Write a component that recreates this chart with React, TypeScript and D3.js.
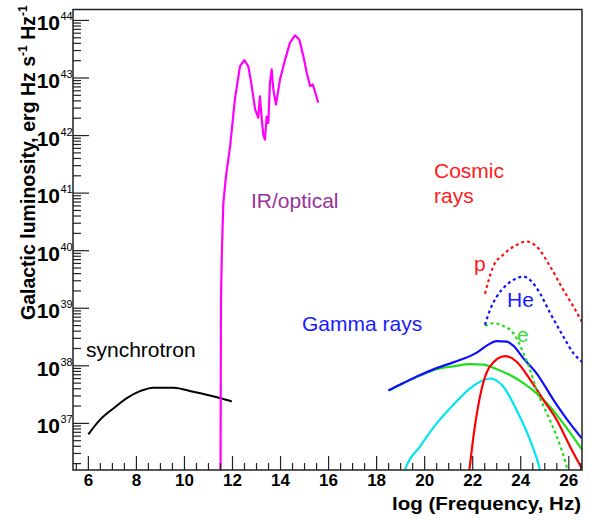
import React from "react";
import * as d3 from "d3";

const W = 590;
const H = 520;
const frame = { left: 73, right: 582, top: 9.5, bottom: 470 };

// axis ranges: x is log10(frequency), y is log10(luminosity)
const xDomain = [5.36, 26.55];
const yExpDomain = [36.19, 44.19];
const xMajorTicks = [6, 8, 10, 12, 14, 16, 18, 20, 22, 24, 26];
const yMajorExps = [37, 38, 39, 40, 41, 42, 43, 44];

// curves (x = log nu, y = log L)
const synchX = [6.0, 6.48, 7.04, 7.6, 8.15, 8.7, 9.54, 10.37, 11.48, 11.97];
const synchY = [36.81, 37.06, 37.26, 37.44, 37.56, 37.62, 37.62, 37.55, 37.44, 37.38];

const irX = [11.5, 11.52, 11.56, 11.62, 11.73, 11.9, 12.1, 12.31, 12.49, 12.66, 12.8, 12.94, 13.07, 13.14, 13.22, 13.28, 13.35, 13.42, 13.49, 13.56, 13.63, 13.7, 13.81, 13.98, 14.19, 14.39, 14.6, 14.78, 14.95, 15.09, 15.23, 15.34, 15.43, 15.57];
const irY = [35.9, 39.15, 40.02, 40.83, 41.3, 41.81, 42.63, 43.2, 43.31, 43.2, 42.86, 42.46, 42.31, 42.68, 42.28, 42.02, 41.93, 42.33, 42.22, 42.92, 43.15, 42.8, 42.54, 42.98, 43.32, 43.61, 43.74, 43.67, 43.38, 43.09, 42.86, 42.89, 42.77, 42.57];

const gammaX = [18.49, 19.11, 19.81, 20.5, 21.19, 22.17, 22.58, 23.0, 23.42, 23.69, 24.11, 24.66, 25.36, 26.05, 26.54];
const gammaY = [37.57, 37.7, 37.84, 37.96, 38.06, 38.23, 38.35, 38.43, 38.42, 38.35, 38.13, 37.87, 37.41, 37.0, 36.74];

const icX = [18.56, 19.81, 20.5, 21.19, 21.89, 22.44, 23.0, 23.55, 24.11, 24.66, 25.22, 25.77, 26.54];
const icY = [37.58, 37.83, 37.94, 37.99, 38.03, 38.02, 37.94, 37.84, 37.7, 37.52, 37.29, 37.0, 36.55];

const bremsX = [19.0, 19.18, 19.81, 20.5, 21.19, 21.89, 22.72, 23.27, 23.83, 24.39, 24.8, 24.95];
const bremsY = [35.85, 36.19, 36.6, 37.0, 37.32, 37.61, 37.78, 37.64, 37.23, 36.71, 36.19, 35.9];

const pionX = [21.75, 21.86, 22.03, 22.3, 22.72, 23.35, 23.83, 24.39, 24.94, 25.5, 26.05, 26.54];
const pionY = [35.9, 36.19, 36.77, 37.46, 37.99, 38.17, 38.07, 37.76, 37.41, 37.06, 36.6, 36.22];

const crElecX = [22.51, 22.86, 23.27, 23.69, 24.11, 24.39, 24.66, 25.08, 25.5, 25.91, 26.0];
const crElecY = [38.69, 38.74, 38.69, 38.57, 38.22, 37.93, 37.58, 37.18, 36.77, 36.25, 36.1];

const crHeX = [22.51, 22.72, 23.0, 23.42, 23.83, 24.11, 24.39, 24.8, 25.22, 25.77, 26.19, 26.54];
const crHeY = [38.71, 38.97, 39.2, 39.41, 39.52, 39.55, 39.49, 39.26, 38.92, 38.51, 38.22, 38.07];

const crProtonX = [22.51, 22.86, 23.27, 23.83, 24.25, 24.66, 25.22, 25.77, 26.19, 26.54];
const crProtonY = [39.25, 39.73, 39.93, 40.1, 40.16, 40.07, 39.73, 39.32, 39.03, 38.77];

const curves = [
  { name: "synch", xs: synchX, ys: synchY, color: "#000000", dash: null, width: 2, curve: d3.curveMonotoneX },
  { name: "ir", xs: irX, ys: irY, color: "#ff00ff", dash: null, width: 2.2, curve: d3.curveLinear },
  { name: "brems", xs: bremsX, ys: bremsY, color: "#00e5f0", dash: null, width: 2.2, curve: d3.curveMonotoneX },
  { name: "ic", xs: icX, ys: icY, color: "#1fdd1f", dash: null, width: 2.2, curve: d3.curveMonotoneX },
  { name: "pion", xs: pionX, ys: pionY, color: "#ff0000", dash: null, width: 2.2, curve: d3.curveMonotoneX },
  { name: "gamma", xs: gammaX, ys: gammaY, color: "#1010ff", dash: null, width: 2.2, curve: d3.curveMonotoneX },
  { name: "e", xs: crElecX, ys: crElecY, color: "#1fdd1f", dash: "3,3", width: 2.2, curve: d3.curveMonotoneX },
  { name: "he", xs: crHeX, ys: crHeY, color: "#1010ff", dash: "3,3", width: 2.2, curve: d3.curveMonotoneX },
  { name: "p", xs: crProtonX, ys: crProtonY, color: "#ff1010", dash: "3,3", width: 2.2, curve: d3.curveMonotoneX },
];

const labels = [
  { text: "synchrotron", x: 86, y: 357, color: "#000000" },
  { text: "IR/optical", x: 251, y: 208, color: "#993399" },
  { text: "Cosmic", x: 434, y: 178, color: "#ff1a1a" },
  { text: "rays", x: 434, y: 203, color: "#ff1a1a" },
  { text: "Gamma rays", x: 302, y: 331, color: "#1a1aff" },
  { text: "p", x: 474, y: 271, color: "#ff1a1a" },
  { text: "He", x: 507, y: 307, color: "#1a1aff" },
  { text: "e", x: 517, y: 342, color: "#33dd33" },
];

const font = "'Liberation Sans', Arial, Helvetica, sans-serif";

export default function App() {
  const x = d3.scaleLinear().domain(xDomain).range([frame.left, frame.right]);
  const y = d3
    .scaleLog()
    .domain([Math.pow(10, yExpDomain[0]), Math.pow(10, yExpDomain[1])])
    .range([frame.bottom, frame.top]);

  const yTicks = y.ticks().filter(v => y(v) >= frame.top && y(v) <= frame.bottom);
  const xMinor = d3.range(5.5, 26.51, 0.5).filter(v => !xMajorTicks.includes(v));

  const makeLine = (curve: any) =>
    d3
      .line<[number, number]>()
      .x(d => x(d[0]))
      .y(d => y(Math.pow(10, d[1])))
      .curve(curve);

  return (
    <svg width={W} height={H} style={{ position: "absolute", left: 0, top: 0, background: "#fff" }} fontFamily={font}>
      <defs>
        <clipPath id="plot">
          <rect x={frame.left} y={frame.top} width={frame.right - frame.left} height={frame.bottom - frame.top} />
        </clipPath>
      </defs>
      <rect width={W} height={H} fill="#fff" />

      <g clipPath="url(#plot)" fill="none" strokeLinejoin="round">
        {curves.map(c => (
          <path
            key={c.name}
            d={makeLine(c.curve)(c.xs.map((v, i) => [v, c.ys[i]] as [number, number])) || ""}
            stroke={c.color}
            strokeWidth={c.width}
            strokeDasharray={c.dash || undefined}
          />
        ))}
      </g>

      {/* frame */}
      <rect
        x={frame.left}
        y={frame.top}
        width={frame.right - frame.left}
        height={frame.bottom - frame.top}
        fill="none"
        stroke="#222"
        strokeWidth={1.5}
      />

      {/* y ticks */}
      {yTicks.map((v, i) => {
        const major = Math.abs(Math.log10(v) - Math.round(Math.log10(v))) < 1e-6;
        return (
          <line key={"yt" + i} x1={frame.left} x2={frame.left + (major ? 16 : 8)} y1={y(v)} y2={y(v)} stroke="#222" strokeWidth={1.2} />
        );
      })}
      {yMajorExps.map(e => {
        const py = y(Math.pow(10, e));
        return (
          <g key={"yl" + e}>
            <text x={60} y={py + 10} textAnchor="end" fontWeight="bold" fontSize={21}>10</text>
            <text x={60.5} y={py} textAnchor="start" fontSize={11}>{e}</text>
          </g>
        );
      })}

      {/* x ticks */}
      {xMajorTicks.map(v => (
        <g key={"xt" + v}>
          <line x1={x(v)} x2={x(v)} y1={frame.bottom} y2={frame.bottom - 14} stroke="#222" strokeWidth={1.2} />
          <text x={x(v)} y={486} textAnchor="middle" fontWeight="bold" fontSize={17}>{v}</text>
        </g>
      ))}
      {xMinor.map(v => (
        <line key={"xm" + v} x1={x(v)} x2={x(v)} y1={frame.bottom} y2={frame.bottom - 7} stroke="#222" strokeWidth={1.2} />
      ))}

      {/* axis titles */}
      <text x={581} y={510} textAnchor="end" fontWeight="bold" fontSize={18} textLength={189} lengthAdjust="spacingAndGlyphs">
        log (Frequency, Hz)
      </text>
      <text transform="translate(35,320) rotate(-90)" fontWeight="bold" fontSize={19.5}>
        Galactic luminosity, erg Hz s
        <tspan fontSize={12} dy={-8}>-1</tspan>
        <tspan dy={8}> Hz</tspan>
        <tspan fontSize={12} dy={-8}>-1</tspan>
      </text>

      {/* annotations */}
      {labels.map(l => (
        <text key={l.text + l.y} x={l.x} y={l.y} fill={l.color} fontSize={21}>
          {l.text}
        </text>
      ))}
    </svg>
  );
}
